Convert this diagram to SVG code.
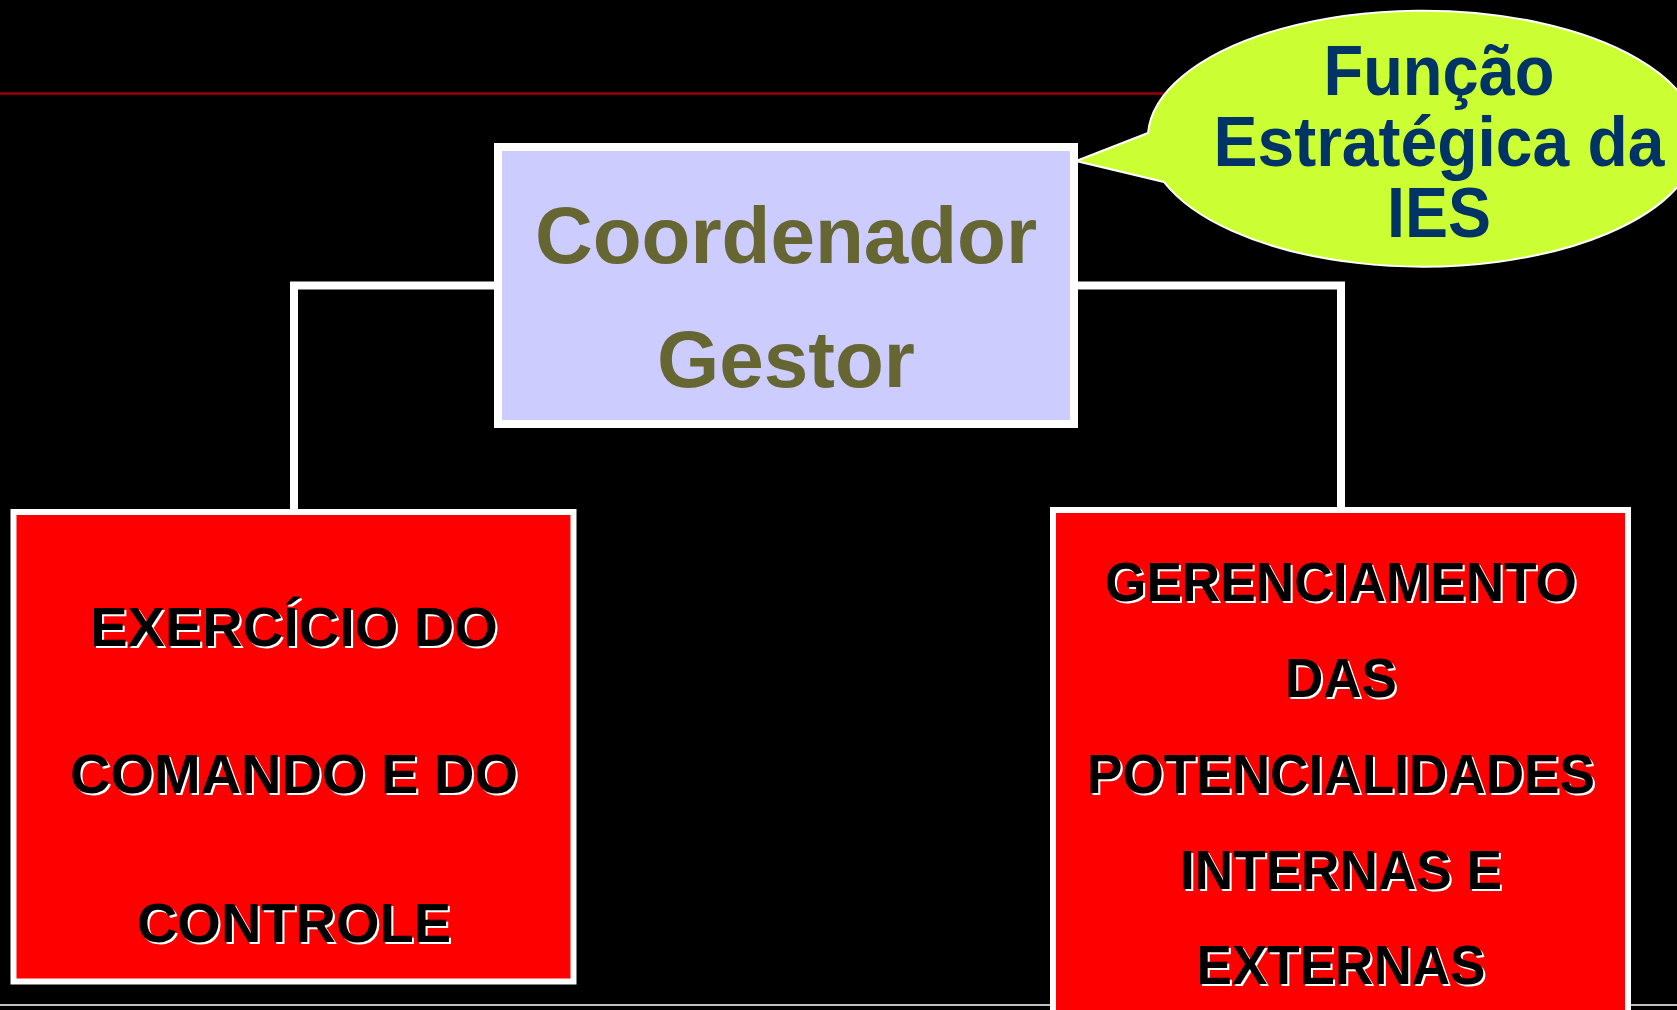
<svg xmlns="http://www.w3.org/2000/svg" width="1677" height="1010" viewBox="0 0 1677 1010">
<style>
.conn{fill:none;stroke:#ffffff;stroke-width:8}
.redbox{fill:#ff0000;stroke:#ffffff;stroke-width:6}
.ctr{font-family:"Liberation Sans",Arial,sans-serif;font-weight:bold;text-anchor:middle}
.big{font-size:80px;fill:#666633}
.bub{font-size:71px;fill:#003366}
.lt{font-size:56px}
.rt{font-size:55px}
.sh{fill:#ffffff}
.fg{fill:#000000}
</style>
<rect x="0" y="0" width="1677" height="1010" fill="#000000"/>
<line x1="0" y1="93.5" x2="1677" y2="93.5" stroke="#990000" stroke-width="2.5"/>
<line x1="0" y1="1005" x2="1677" y2="1005" stroke="#bfbfbf" stroke-width="2"/>
<g id="connectors">
<polyline class="conn" points="498,285.5 294,285.5 294,510"/>
<polyline class="conn" points="1074,285.5 1341,285.5 1341,508"/>
</g>
<g id="coordenador">
<rect x="498" y="147" width="576" height="277" fill="#ccccff" stroke="#ffffff" stroke-width="8"/>
<text class="ctr big" x="786" y="263">Coordenador</text>
<text class="ctr big" x="786" y="387">Gestor</text>
</g>
<g id="exercicio">
<rect class="redbox" x="13.5" y="512" width="560" height="469.5"/>
<g class="ctr lt">
<text class="sh" x="296" y="648">EXERCÍCIO DO</text>
<text class="fg" x="294" y="646">EXERCÍCIO DO</text>
<text class="sh" x="296" y="795">COMANDO E DO</text>
<text class="fg" x="294" y="793">COMANDO E DO</text>
<text class="sh" x="296" y="944">CONTROLE</text>
<text class="fg" x="294" y="942">CONTROLE</text>
</g>
</g>
<g id="gerenciamento">
<rect class="redbox" x="1053" y="510" width="575" height="520"/>
<g class="ctr rt">
<text class="sh" x="1343" y="603" textLength="472" lengthAdjust="spacingAndGlyphs">GERENCIAMENTO</text>
<text class="fg" x="1341" y="601" textLength="472" lengthAdjust="spacingAndGlyphs">GERENCIAMENTO</text>
<text class="sh" x="1343" y="699" textLength="112" lengthAdjust="spacingAndGlyphs">DAS</text>
<text class="fg" x="1341" y="697" textLength="112" lengthAdjust="spacingAndGlyphs">DAS</text>
<text class="sh" x="1343" y="795" textLength="508" lengthAdjust="spacingAndGlyphs">POTENCIALIDADES</text>
<text class="fg" x="1341" y="793" textLength="508" lengthAdjust="spacingAndGlyphs">POTENCIALIDADES</text>
<text class="sh" x="1343" y="891" textLength="322" lengthAdjust="spacingAndGlyphs">INTERNAS E</text>
<text class="fg" x="1341" y="889" textLength="322" lengthAdjust="spacingAndGlyphs">INTERNAS E</text>
<text class="sh" x="1343" y="986" textLength="289" lengthAdjust="spacingAndGlyphs">EXTERNAS</text>
<text class="fg" x="1341" y="984" textLength="289" lengthAdjust="spacingAndGlyphs">EXTERNAS</text>
</g>
</g>
<g id="funcao">
<path d="M1148,133 L1076,161 L1164,182 A275,128 0 1 0 1148,133 Z" fill="#ccff33" stroke="#ffffff" stroke-width="2"/>
<g class="ctr bub">
<text x="1439" y="95" textLength="231" lengthAdjust="spacingAndGlyphs">Função</text>
<text x="1439" y="166" textLength="451" lengthAdjust="spacingAndGlyphs">Estratégica da</text>
<text x="1439" y="237" textLength="104" lengthAdjust="spacingAndGlyphs">IES</text>
</g>
</g>
</svg>
